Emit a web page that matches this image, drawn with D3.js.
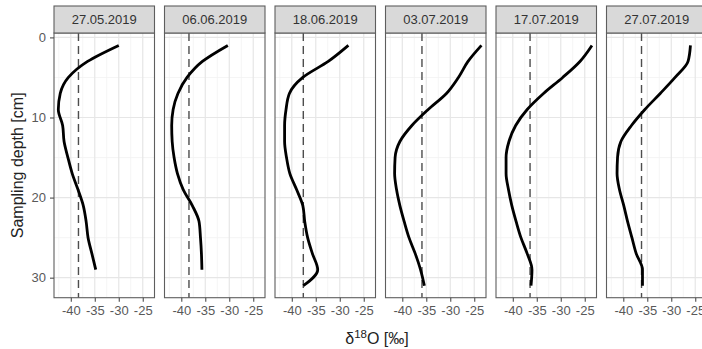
<!DOCTYPE html>
<html>
<head>
<meta charset="utf-8">
<script src="https://cdn.jsdelivr.net/npm/d3@7"></script>
<style>
  html, body { margin: 0; padding: 0; background: #fff; overflow: hidden; }
  svg { display: block; font-family: "Liberation Sans", Arial, Helvetica, sans-serif; }
</style>
</head>
<body>
<svg id="chart" width="702" height="349"></svg>
<script>
// Sampling dates (one facet each)
const dates = ["27.05.2019", "06.06.2019", "18.06.2019", "03.07.2019", "17.07.2019", "27.07.2019"];

// Sampling depths [cm]
const depths = [1, 3, 5, 7, 9, 11, 13, 15, 17, 19, 21, 23, 25, 27, 29, 31];

// δ18O profiles [‰] per date
const d18O_0527 = [-30.0, -36.5, -40.5, -42.2, -42.6, -41.7, -41.4, -40.6, -39.7, -38.5, -37.4, -36.8, -36.4, -35.6, -34.8];
const d18O_0606 = [-30.3, -35.6, -38.8, -40.7, -41.7, -42.0, -41.9, -41.5, -40.8, -39.6, -37.7, -36.3, -36.0, -35.8, -35.7];
const d18O_0618 = [-28.2, -32.4, -37.7, -40.5, -41.2, -41.5, -41.5, -41.1, -40.4, -39.0, -37.7, -37.3, -36.7, -35.7, -34.6, -37.6];
const d18O_0703 = [-23.5, -26.3, -28.3, -30.8, -34.6, -38.0, -40.5, -41.5, -41.6, -41.2, -40.5, -39.6, -38.6, -37.3, -36.2, -35.4];
const d18O_0717 = [-23.5, -26.0, -29.6, -33.6, -37.0, -39.4, -40.8, -41.4, -41.4, -40.9, -40.2, -39.3, -38.3, -37.0, -36.0, -36.2];
const d18O_0727 = [-26.0, -26.5, -29.2, -32.3, -35.5, -38.3, -40.5, -41.2, -41.3, -40.8, -39.9, -39.1, -38.2, -37.3, -36.0, -36.0];

// Reference δ18O value per date (dashed line)
const refValues = [-38.4, -38.4, -37.6, -35.9, -36.4, -36.2];

// Axis ticks
const xTicks = [-40, -35, -30, -25];
const xMinor = [-42.5, -37.5, -32.5, -27.5];
const yTicks = [0, 10, 20, 30];
const yMinor = [5, 15, 25];

const profiles = [d18O_0527, d18O_0606, d18O_0618, d18O_0703, d18O_0717, d18O_0727];

// Layout
const panelLeft = 54, panelW = 100.5, panelGap = 10;
const stripTop = 6, stripH = 27;
const plotTop = stripTop + stripH, plotBottom = 297.7;

const svg = d3.select("#chart");

const x = d3.scaleLinear().domain([-43.5, -22.55]).range([0, panelW]);
const y = d3.scaleLinear().domain([-0.55, 32.5]).range([plotTop, plotBottom]);

const line = d3.line()
  .x(d => x(d.v))
  .y(d => y(d.depth))
  .curve(d3.curveMonotoneY);

// plain hyphen-minus labels
const fmt = d => String(d);

dates.forEach((date, i) => {
  const g = svg.append("g").attr("transform", `translate(${panelLeft + i * (panelW + panelGap)},0)`);

  // background
  g.append("rect").attr("x", 0).attr("y", plotTop).attr("width", panelW)
    .attr("height", plotBottom - plotTop).attr("fill", "#fff");

  // minor grid
  g.selectAll(".vmin").data(xMinor).enter().append("line")
    .attr("x1", d => x(d)).attr("x2", d => x(d))
    .attr("y1", plotTop).attr("y2", plotBottom)
    .attr("stroke", "#f2f2f2").attr("stroke-width", 0.8);
  g.selectAll(".hmin").data(yMinor).enter().append("line")
    .attr("x1", 0).attr("x2", panelW)
    .attr("y1", d => y(d)).attr("y2", d => y(d))
    .attr("stroke", "#f2f2f2").attr("stroke-width", 0.8);

  // major grid
  g.selectAll(".vmaj").data(xTicks).enter().append("line")
    .attr("x1", d => x(d)).attr("x2", d => x(d))
    .attr("y1", plotTop).attr("y2", plotBottom)
    .attr("stroke", "#e6e6e6").attr("stroke-width", 1.2);
  g.selectAll(".hmaj").data(yTicks).enter().append("line")
    .attr("x1", 0).attr("x2", panelW)
    .attr("y1", d => y(d)).attr("y2", d => y(d))
    .attr("stroke", "#e6e6e6").attr("stroke-width", 1.2);

  // reference dashed line
  g.append("line")
    .attr("x1", x(refValues[i])).attr("x2", x(refValues[i]))
    .attr("y1", plotTop).attr("y2", plotBottom)
    .attr("stroke", "#4d4d4d").attr("stroke-width", 1.4)
    .attr("stroke-dasharray", "8,5");

  // profile
  const pts = profiles[i].map((v, k) => ({ v: v, depth: depths[k] }));
  g.append("path").datum(pts)
    .attr("d", line)
    .attr("fill", "none")
    .attr("stroke", "#000")
    .attr("stroke-width", 2.8)
    .attr("stroke-linejoin", "round")
    .attr("stroke-linecap", "butt");

  // panel border
  g.append("rect").attr("x", 0).attr("y", plotTop).attr("width", panelW)
    .attr("height", plotBottom - plotTop).attr("fill", "none")
    .attr("stroke", "#5e5e5e").attr("stroke-width", 1.1);

  // strip
  g.append("rect").attr("x", 0).attr("y", stripTop).attr("width", panelW)
    .attr("height", stripH).attr("fill", "#d9d9d9")
    .attr("stroke", "#5e5e5e").attr("stroke-width", 1.1);
  g.append("text").attr("x", panelW / 2).attr("y", stripTop + stripH / 2 + 4.6)
    .attr("text-anchor", "middle").attr("font-size", 13).attr("fill", "#333")
    .text(date);

  // x axis
  const xAxis = g.append("g").attr("transform", `translate(0,${plotBottom})`)
    .call(d3.axisBottom(x).tickValues(xTicks).tickSize(4).tickPadding(4.5).tickFormat(fmt));
  xAxis.select(".domain").remove();
  xAxis.selectAll(".tick line").attr("stroke", "#4d4d4d").attr("stroke-width", 1.1);
  xAxis.selectAll(".tick text").attr("font-size", 13).attr("fill", "#595959")
    .attr("font-family", "Liberation Sans, Arial, sans-serif");
});

// y axis (left facet only)
const yAxis = svg.append("g").attr("transform", `translate(${panelLeft},0)`)
  .call(d3.axisLeft(y).tickValues(yTicks).tickSize(4).tickPadding(4).tickFormat(fmt));
yAxis.select(".domain").remove();
yAxis.selectAll(".tick line").attr("stroke", "#4d4d4d").attr("stroke-width", 1.1);
yAxis.selectAll(".tick text").attr("font-size", 13).attr("fill", "#595959")
  .attr("font-family", "Liberation Sans, Arial, sans-serif");

// axis titles
svg.append("text")
  .attr("transform", `translate(23,${(plotTop + plotBottom) / 2}) rotate(-90)`)
  .attr("text-anchor", "middle").attr("font-size", 16).attr("fill", "#222")
  .text("Sampling depth [cm]");

const xt = svg.append("text")
  .attr("x", 377).attr("y", 344)
  .attr("text-anchor", "middle").attr("font-size", 16).attr("fill", "#222");
xt.append("tspan").text("δ");
xt.append("tspan").attr("dy", -6).attr("font-size", 11.5).text("18");
xt.append("tspan").attr("dy", 6).text("O [‰]");
</script>
</body>
</html>
